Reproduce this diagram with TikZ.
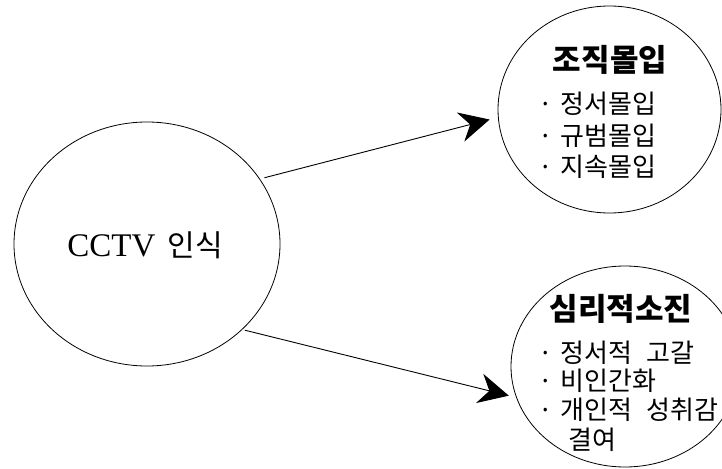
\documentclass[tikz,border=0pt]{standalone}
\usepackage{fontspec}
\setmainfont{Liberation Serif}
\newfontfamily\kr{Noto Sans CJK KR}
\usetikzlibrary{arrows.meta,shapes.geometric}
\begin{document}
\begin{tikzpicture}[x=1pt,y=-1pt,
  bubble/.style={draw, ellipse, line width=0.8pt, inner sep=0pt, outer sep=0pt},
  conn/.style={line width=0.9pt, -{Stealth[length=30pt,width=30pt,inset=10pt]}},
  head/.style={inner sep=0pt, font=\kr\bfseries\fontsize{31}{34}\selectfont},
  item/.style={inner sep=0pt, anchor=west, font=\kr\fontsize{26}{28}\selectfont},
  main/.style={inner sep=0pt, anchor=base}]
\useasboundingbox (0,0) rectangle (722,468);
\node[bubble, minimum width=266pt, minimum height=244pt] (L) at (147,244) {};
\node[bubble, minimum width=223pt, minimum height=207pt] (T) at (609.5,109.5) {};
\node[bubble, minimum width=228pt, minimum height=201pt] (B) at (625,366.5) {};
\node[main] (Lt) at (145,256) {\fontsize{33}{36}\selectfont CCTV\hspace{12pt}{\kr\fontsize{30}{32}\selectfont 인식}};
\node[head] (Th) at (610,60) {조직몰입};
\node[item] (T1) at (538,104) {·\hspace{8pt}정서몰입};
\node[item] (T2) at (538,136) {·\hspace{8pt}규범몰입};
\node[item] (T3) at (538,167) {·\hspace{8pt}지속몰입};
\node[head] (Bh) at (621,309) {심리적소진};
\node[item] (B1) at (538,353) {·\hspace{8pt}정서적\hspace{14pt}고갈};
\node[item] (B2) at (538,381) {·\hspace{8pt}비인간화};
\node[item] (B3) at (538,410) {·\hspace{8pt}개인적\hspace{14pt}성취감};
\node[item] (B4) at (538,440) {\hspace{30pt}결여};
\draw[conn, shorten <=5pt, shorten >=9pt] (L.30) -- (T.184);
\draw[conn, shorten <=3pt, shorten >=8pt] (L.318) -- (B.196);
\end{tikzpicture}
\end{document}
